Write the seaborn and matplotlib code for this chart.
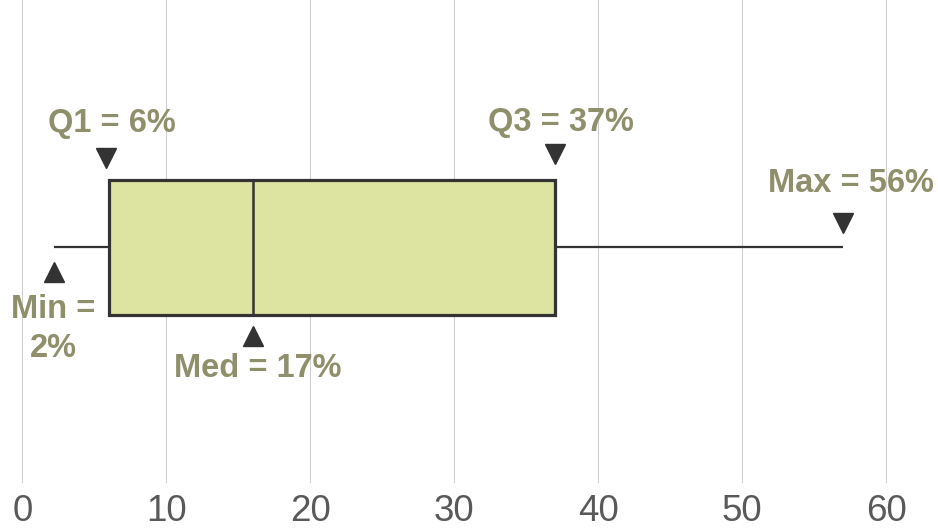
import numpy as np
import pandas as pd
import seaborn as sns
import matplotlib
matplotlib.use("Agg")
import matplotlib.pyplot as plt
from matplotlib.transforms import offset_copy

# Data: five-number summary points (percent)
values = [2.2, 6.0, 16.0, 37.0, 57.0]
label_names = ["Min", "Q1", "Med", "Q3", "Max"]
label_pcts = [2, 6, 17, 37, 56]
x_ticks = [0, 10, 20, 30, 40, 50, 60]

sns.set_theme(style="white")
plt.rcParams['font.family'] = ['Liberation Sans', 'DejaVu Sans']

fig = plt.figure(figsize=(9.38, 5.28), dpi=100)
ax = fig.add_axes([0, 0.0852, 1, 0.9148])

df = pd.DataFrame({"pct": values})
sns.boxplot(data=df, x="pct", ax=ax, whis=(0, 100), width=0.5,
            color="#DDE3A0", saturation=1, showcaps=False,
            linecolor="#333333", linewidth=1.6,
            boxprops=dict(linewidth=2.3),
            medianprops=dict(linewidth=1.8),
            whiskerprops=dict(linewidth=1.6))

ax.set_xlim(-1.55, 63.6)
ax.set_ylim(0.873, -0.915)
ax.set_xticks(x_ticks)
ax.set_yticks([])
ax.set_xlabel("")
ax.set_ylabel("")
for s in ax.spines.values():
    s.set_visible(False)
ax.grid(axis="x", color="#D0D0D0", linewidth=0.8)
ax.set_axisbelow(True)
ax.tick_params(axis="x", length=0, labelsize=26.5, labelcolor="#595959", pad=8)

q = np.percentile(values, [0, 25, 50, 75, 100])
stats = dict(zip(label_names, q))

text_color = "#8F906B"
tri_color = "#333333"

# (name, marker, tri dx, tri dy, text dx, text dy) offsets in pixels (up positive)
specs = [
    ("Q1", "v", -3, 89, 3, 124),
    ("Q3", "v", 0, 93, 6, 125),
    ("Max", "v", 0, 24, 8, 64),
    ("Min", "^", 0, -25, -1, -82),
    ("Med", "^", 0, -89, 5, -121),
]
pct_lookup = dict(zip(label_names, label_pcts))
for name, mk, tdx, tdy, xdx, xdy in specs:
    xv = stats[name]
    tr = offset_copy(ax.transData, fig=fig, x=tdx, y=tdy, units='dots')
    ax.plot([xv], [0], marker=mk, markersize=14, color=tri_color,
            linestyle="none", transform=tr, clip_on=False, zorder=5)
    if name == "Min":
        txt = f"{name} =\n{pct_lookup[name]}%"
    else:
        txt = f"{name} = {pct_lookup[name]}%"
    ax.annotate(txt, xy=(xv, 0), xycoords="data",
                xytext=(xdx, xdy), textcoords="offset pixels",
                ha="center", va="center", fontsize=23.5, fontweight="bold",
                color=text_color, linespacing=1.35, annotation_clip=False)

fig.savefig("out.png", dpi=100)
